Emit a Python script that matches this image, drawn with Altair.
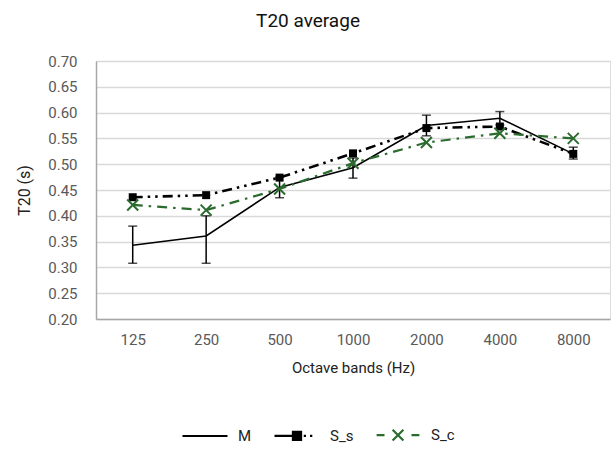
import altair as alt
import pandas as pd

bands = ["125", "250", "500", "1000", "2000", "4000", "8000"]
series_names = ["M", "S_s", "S_c"]
m_vals = [0.343, 0.361, 0.455, 0.493, 0.575, 0.589, 0.520]
m_lo = [0.308, 0.308, 0.435, 0.473, 0.555, 0.576, 0.510]
m_hi = [0.380, 0.400, 0.475, 0.512, 0.595, 0.602, 0.533]
ss_vals = [0.436, 0.440, 0.474, 0.521, 0.570, 0.573, 0.520]
sc_vals = [0.421, 0.411, 0.452, 0.502, 0.542, 0.560, 0.550]
y_ticks = [0.20, 0.25, 0.30, 0.35, 0.40, 0.45, 0.50, 0.55, 0.60, 0.65, 0.70]

GREEN = "#2b6b2e"
FONT = "Roboto"

rows = []
for name, vals in zip(series_names, [m_vals, ss_vals, sc_vals]):
    for b, v in zip(bands, vals):
        rows.append({"band": b, "series": name, "value": v})
df = pd.DataFrame(rows)
err = pd.DataFrame({"band": bands, "lo": m_lo, "hi": m_hi})

x_scale = alt.Scale(type="point", padding=0.5, domain=bands)
x_axis = alt.Axis(title="Octave bands (Hz)", labelAngle=0, ticks=False,
                  labelPadding=13, titlePadding=13, labelFontSize=15,
                  labelColor="#595959", titleFontSize=15, titleColor="#222222",
                  titleFontWeight="normal", domainColor="#a6a6a6",
                  domainWidth=1.5, grid=False, labelFont=FONT, titleFont=FONT)
y_scale = alt.Scale(domain=[0.2, 0.7], nice=False, zero=False)
y_axis = alt.Axis(title="T20 (s)", values=y_ticks, format=".2f", ticks=False,
                  labelPadding=19, titlePadding=15, labelFontSize=15,
                  labelColor="#595959", titleFontSize=16, titleColor="#222222",
                  titleFontWeight="normal", domainColor="#a6a6a6", domainWidth=1.5,
                  gridColor="#d9d9d9", gridWidth=1.5, labelOverlap=False,
                  labelFont=FONT, titleFont=FONT)


def X():
    return alt.X("band:N", sort=bands, scale=x_scale, axis=x_axis)


def Y(field):
    return alt.Y(field, scale=y_scale, axis=y_axis)


color_scale = alt.Scale(domain=series_names, range=["#000000", "#000000", GREEN])

# legend glyphs: line + marker drawn as paths in the unit box -1..1
legend_paths = [
    "M-1,0H1",
    "M-1,0H-0.18M-0.18,-0.18H0.18V0.18H-0.18ZM-0.18,-0.09H0.18M-0.18,0H0.18M-0.18,0.09H0.18"
    "M0.3,0H0.4M0.58,0H0.68",
    "M-0.95,0H-0.6M0.6,0H0.95M-0.24,-0.24L0.24,0.24M-0.24,0.24L0.24,-0.24",
]
shape_scale = alt.Scale(domain=series_names, range=legend_paths)

legend = alt.Legend(
    title=None, orient="none", direction="horizontal", legendX=85, legendY=350,
    symbolSize=2025, symbolStrokeWidth=2.2, labelFontSize=15,
    labelColor="#222222", labelFont=FONT, columnPadding=18, labelOffset=9,
)

line_m = alt.Chart(df[df.series == "M"]).mark_line(
    color="#000000", strokeWidth=1.6).encode(x=X(), y=Y("value:Q"))
line_ss = alt.Chart(df[df.series == "S_s"]).mark_line(
    color="#000000", strokeWidth=2.6, strokeDash=[10, 5, 2.5, 5, 2.5, 5]).encode(
    x=X(), y=Y("value:Q"))
line_sc = alt.Chart(df[df.series == "S_c"]).mark_line(
    color=GREEN, strokeWidth=2.2, strokeDash=[10, 6, 2.5, 6]).encode(
    x=X(), y=Y("value:Q"))

# carries the legend only; its own glyphs are transparent
legend_carrier = alt.Chart(df[df.band == "125"]).mark_point(
    filled=False, opacity=0).encode(
    x=X(), y=Y("value:Q"),
    color=alt.Color("series:N", scale=color_scale, legend=legend),
    shape=alt.Shape("series:N", scale=shape_scale, legend=legend),
)

err_rule = alt.Chart(err).mark_rule(color="#000000", strokeWidth=1.5).encode(
    x=X(), y=Y("lo:Q"), y2="hi:Q")
err_lo = alt.Chart(err).mark_tick(color="#000000", thickness=1.5, size=9).encode(
    x=X(), y=Y("lo:Q"))
err_hi = alt.Chart(err).mark_tick(color="#000000", thickness=1.5, size=9).encode(
    x=X(), y=Y("hi:Q"))

squares = alt.Chart(df[df.series == "S_s"]).mark_point(
    shape="square", filled=True, size=64, color="#000000", opacity=1).encode(
    x=X(), y=Y("value:Q"))
crosses = alt.Chart(df[df.series == "S_c"]).mark_point(
    shape="M-1,-1L1,1M-1,1L1,-1", filled=False, size=121, color=GREEN,
    strokeWidth=2, opacity=1).encode(
    x=X(), y=Y("value:Q"))

chart = alt.layer(err_rule, err_lo, err_hi, line_m, line_ss, line_sc,
                  squares, crosses, legend_carrier).properties(
    width=514, height=258,
    autosize=alt.AutoSizeParams(type="none"),
    padding={"left": 96, "top": 61, "right": 3, "bottom": 130},
    title=alt.TitleParams("T20 average", fontSize=19, font=FONT, fontWeight="normal",
                          color="#111111", anchor="middle", dx=-45, offset=23),
).configure_view(stroke=None).configure(background="white")

chart.save("out.html", embed_options={"renderer": "svg", "actions": False})
